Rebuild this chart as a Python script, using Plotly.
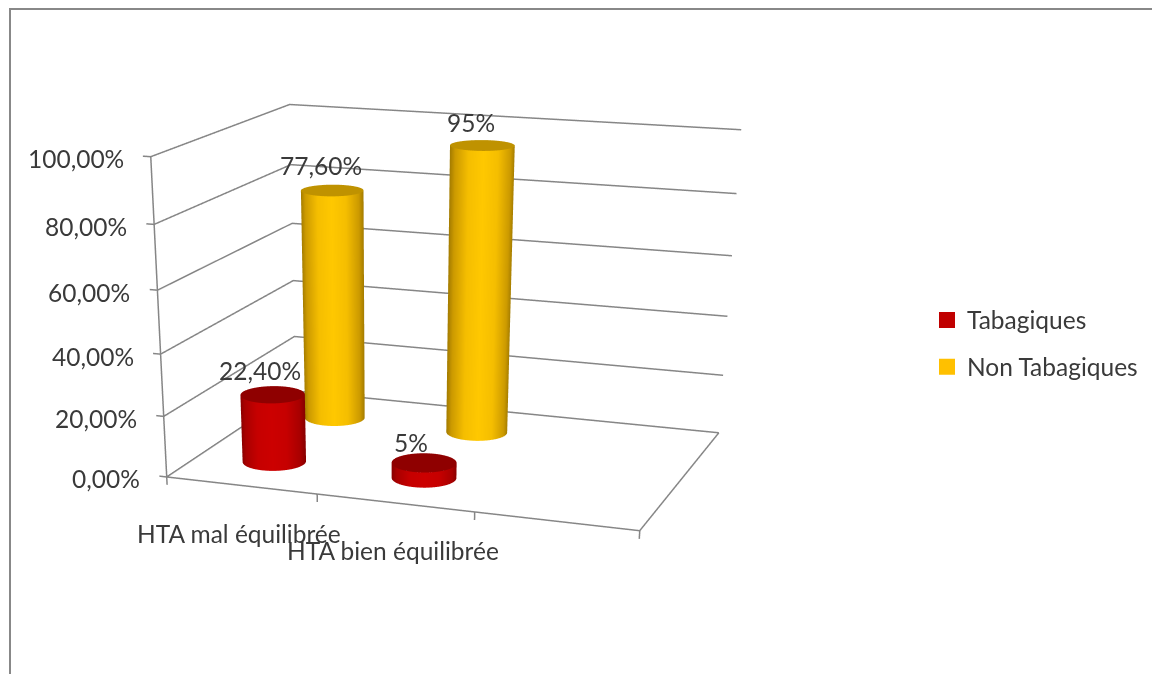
import numpy as np
import plotly.graph_objects as go

categories = ["HTA mal équilibrée", "HTA bien équilibrée"]
series_names = ["Tabagiques", "Non Tabagiques"]
tabagiques = [22.4, 5.0]
non_tabagiques = [77.6, 95.0]
labels_tab = ["22,40%", "5%"]
labels_non = ["77,60%", "95%"]
y_ticks = [0, 20, 40, 60, 80, 100]
y_labels = ["0,00%", "20,00%", "40,00%", "60,00%", "80,00%", "100,00%"]

FIG_W, FIG_H = 1160, 1800      # plotly's lens is fixed at 45°, so a tall viewport gives the flatter perspective
VIEW_W = 760
X_RANGE = [-.15, 3.05]
Y_RANGE = [-.02, 2.02]
Z_RANGE = [-5, 102]
UNIT_X, UNIT_Y, UNIT_Z = 1.582 / 3, 1.114 / 2, 1 / 100
SHIFT_X = (1.5 - sum(X_RANGE) / 2) * UNIT_X
SHIFT_Z = (50 - sum(Z_RANGE) / 2) * UNIT_Z
EYE = dict(x=2.243 + SHIFT_X, y=-6.791, z=1.641 + SHIFT_Z)
CENTER = dict(x=1.209 + SHIFT_X, y=-3.947, z=SHIFT_Z)
ASPECT = dict(x=UNIT_X * (X_RANGE[1] - X_RANGE[0]), y=UNIT_Y * (Y_RANGE[1] - Y_RANGE[0]),
              z=UNIT_Z * (Z_RANGE[1] - Z_RANGE[0]))

FONT = "Lato"
TXT = "#3A3A3A"
GRID = "#868686"
RED_SIDE = [[0, "#CC0000"], [.45, "#C60000"], [.85, "#A80000"], [1, "#880000"]]
RED_TOP = "#8F0000"
YEL_SIDE = [[0, "#FFC800"], [.45, "#F5BE00"], [.85, "#CC9A00"], [1, "#A47C00"]]
YEL_TOP = "#BF9200"

fig = go.Figure()
phi = np.arctan2(EYE["y"] - CENTER["y"], EYE["x"] - CENTER["x"])
R = 0.2


def cylinder(cx, cy, h, side, top, name):
    th = np.linspace(0, 2 * np.pi, 145)
    ry = R * UNIT_X / UNIT_Y
    X = np.outer(np.ones(2), cx + R * np.cos(th))
    Y = np.outer(np.ones(2), cy + ry * np.sin(th))
    Z = np.outer(np.array([0.0, h]), np.ones(145))
    C = np.outer(np.ones(2), np.abs(np.sin(th - phi)))
    common = dict(showscale=False, hoverinfo="skip", name=name,
                  lighting=dict(ambient=1, diffuse=0, specular=0, fresnel=0, roughness=1))
    fig.add_trace(go.Surface(x=X, y=Y, z=Z, surfacecolor=C, cmin=0, cmax=1, colorscale=side, **common))
    rr = np.array([0.0, 1.0])
    XT = cx + np.outer(rr, R * np.cos(th))
    YT = cy + np.outer(rr, ry * np.sin(th))
    ZT = np.full(XT.shape, h)
    fig.add_trace(go.Surface(x=XT, y=YT, z=ZT, surfacecolor=np.zeros(XT.shape), cmin=0, cmax=1,
                             colorscale=[[0, top], [1, top]], **common))


for i in range(2):
    cylinder(i + .5, .5, tabagiques[i], RED_SIDE, RED_TOP, series_names[0])
    cylinder(i + .5, 1.5, non_tabagiques[i], YEL_SIDE, YEL_TOP, series_names[1])

# wall grid, axis lines and tick marks
gx, gy, gz = [], [], []


def seg(*points):
    for p in points:
        gx.append(p[0]); gy.append(p[1]); gz.append(p[2])
    gx.append(None); gy.append(None); gz.append(None)


for t in y_ticks:
    seg((0, 0, t), (0, 2, t), (3, 2, t))
    seg((0, 0, t), (-.05, 0, t))
seg((0, 0, 0), (3, 0, 0), (3, 2, 0))
seg((0, 0, 0), (0, 0, 100))
for c in range(4):
    seg((c, 0, 0), (c, 0, -2.6))
fig.add_trace(go.Scatter3d(x=gx, y=gy, z=gz, mode="lines", line=dict(color=GRID, width=3), hoverinfo="skip",
                           showlegend=False, connectgaps=False))

for name, col in zip(series_names, ["#C00000", "#FFC000"]):
    fig.add_trace(go.Scatter(x=[None], y=[None], mode="markers", name=name, legendgroup=name,
                             marker=dict(symbol="square", size=16, color=col), hoverinfo="skip"))

ann = []
base = dict(showarrow=False, font=dict(family=FONT, size=24.5, color=TXT))
for t, s in zip(y_ticks, y_labels):
    ann.append(dict(x=0, y=0, z=t, text=s, xanchor="right", yanchor="middle", xshift=-25, yshift=-2, **base))
for i, c in enumerate(categories):
    ann.append(dict(x=i + .5, y=0, z=0, text=c, xanchor="center", yanchor="middle", xshift=-2, yshift=-48, **base))
for i in range(2):
    ann.append(dict(x=i + .5, y=.5, z=tabagiques[i], text=labels_tab[i], xanchor="center", yanchor="middle",
                    xshift=-13, yshift=[24, 20][i], **base))
    ann.append(dict(x=i + .5, y=1.5, z=non_tabagiques[i], text=labels_non[i], xanchor="center", yanchor="middle",
                    xshift=-11, yshift=[25, 23][i], **base))

hidden = dict(showbackground=False, showspikes=False, zeroline=False, showticklabels=False, showgrid=False,
              showline=False, ticks="", title=dict(text=""), autorange=False)
fig.update_layout(
    width=FIG_W, height=FIG_H, margin=dict(l=0, r=0, t=0, b=0),
    paper_bgcolor="white", plot_bgcolor="white", hovermode=False, dragmode=False,
    xaxis=dict(visible=False), yaxis=dict(visible=False),
    scene=dict(
        domain=dict(x=[0, VIEW_W / FIG_W], y=[0, 1]),
        xaxis=dict(range=X_RANGE, **hidden),
        yaxis=dict(range=Y_RANGE, **hidden),
        zaxis=dict(range=Z_RANGE, **hidden),
        camera=dict(eye=EYE, center=CENTER, up=dict(x=0, y=0, z=1)),
        aspectmode="manual", aspectratio=ASPECT, annotations=ann),
    legend=dict(x=919 / FIG_W, y=1 - 289.5 / FIG_H, xanchor="left", yanchor="top", bgcolor="rgba(0,0,0,0)",
                font=dict(family=FONT, size=24.5, color=TXT), tracegroupgap=12, itemclick=False, itemdoubleclick=False),
    shapes=[
        dict(type="line", xref="paper", yref="paper", x0=2 / FIG_W, x1=1, y0=1 - 1 / FIG_H, y1=1 - 1 / FIG_H,
             line=dict(color="#888888", width=2)),
        dict(type="line", xref="paper", yref="paper", x0=2 / FIG_W, x1=2 / FIG_W, y0=1, y1=1 - 700 / FIG_H,
             line=dict(color="#888888", width=2)),
    ],
)
fig.write_html("out.html")
